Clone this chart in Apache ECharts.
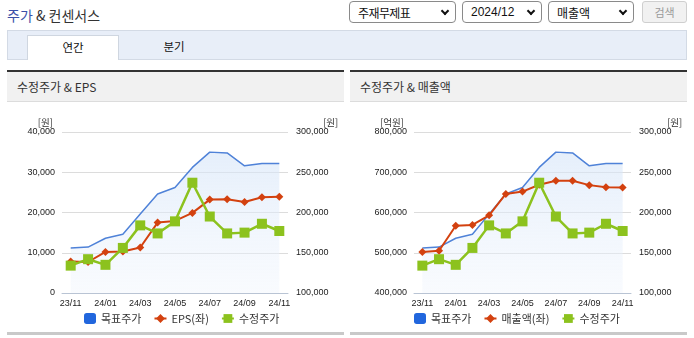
<!DOCTYPE html>
<html><head><meta charset="utf-8">
<script src="https://cdn.jsdelivr.net/npm/echarts@6/dist/echarts.min.js"></script>
<style>
html,body{margin:0;padding:0;background:#fff;width:694px;height:338px;overflow:hidden;font-family:'Noto Sans CJK KR','Noto Sans',sans-serif;color:#333}
.abs{position:absolute}
#title{left:7px;top:5px;font-size:14px;line-height:20px;color:#333;white-space:nowrap}
#title .b{color:#3a4fa8}
.sel{position:absolute;top:1px;height:22px;border:1px solid #8a8a8a;border-radius:4px;background:#fff;box-sizing:border-box}
.sel span{position:absolute;left:8px;top:0;line-height:21px;font-size:12px;color:#111;white-space:nowrap}
.sel i{position:absolute;top:6px;width:4px;height:4px;border-right:2px solid #111;border-bottom:2px solid #111;transform:rotate(45deg)}
#btn{position:absolute;left:642px;top:1px;width:45px;height:22px;border:1px solid #cfcfcf;border-radius:3px;background:#f1f1f1;box-sizing:border-box;font-size:11px;color:#9a9a9a;text-align:center;line-height:20px}
#tabbar{left:7px;top:30px;width:680px;height:30px;background:#e8eef8;border:1px solid #d3dae5;box-sizing:border-box}
#tab1{left:27px;top:35px;width:92px;height:25px;background:#fff;border:1px solid #cfd6e0;border-bottom:none;box-sizing:border-box;text-align:center;font-size:11.5px;line-height:22px;color:#111}
#tab2{left:150px;top:35px;width:48px;height:25px;text-align:center;font-size:11.5px;line-height:22px;color:#111}
.panel{position:absolute;top:70px;width:337px;height:265px}
.panel .top{position:absolute;left:0;top:0;width:100%;height:2px;background:#333}
.panel .head{position:absolute;left:0;top:2px;width:100%;height:30px;background:#f1f1f1;border-bottom:1px solid #dcdcdc;box-sizing:border-box}
.panel .head span{position:absolute;left:10px;top:0;line-height:29px;font-size:12px;color:#333;white-space:nowrap}
.panel .bot{position:absolute;left:0;top:262px;width:100%;height:3px;background:#c9c9c9}
.chart{position:absolute;left:0;top:33px;width:337px;height:229px}
</style></head>
<body>
<div id="title" class="abs"><span class="b">주가</span> &amp; 컨센서스</div>
<div class="sel" style="left:349px;width:107px"><span style="letter-spacing:-0.6px">주재무제표</span><i style="left:92px"></i></div>
<div class="sel" style="left:462px;width:80px"><span style="font-family:'Liberation Sans',Arial,sans-serif">2024/12</span><i style="left:65px"></i></div>
<div class="sel" style="left:548px;width:86px"><span>매출액</span><i style="left:71px"></i></div>
<div id="btn">검색</div>
<div id="tabbar" class="abs"></div>
<div id="tab1" class="abs">연간</div>
<div id="tab2" class="abs">분기</div>

<div class="panel" style="left:7px"><div class="top"></div><div class="head"><span>수정주가 &amp; EPS</span></div><div id="c1" class="chart"></div><div class="bot"></div></div>
<div class="panel" style="left:350px"><div class="top"></div><div class="head"><span>수정주가 &amp; 매출액</span></div><div id="c2" class="chart"></div><div class="bot"></div></div>

<script>
const categories = ['23/11','23/12','24/01','24/02','24/03','24/04','24/05','24/06','24/07','24/08','24/09','24/10','24/11'];
const targetPrice = [156000,157000,168000,173000,198000,223000,231000,256000,275000,274000,258000,261000,261000];
const adjPrice = [134000,142000,135000,156000,184000,174000,189000,237000,195000,174000,175000,186000,177000];
const eps = [7800,7700,10200,10300,11300,17500,17900,19900,23200,23300,22600,23800,23900];
const revenue = [502000,505000,567000,569000,593000,646000,652000,669000,679000,679000,668000,663000,662000];

const numFont = "'Liberation Sans', Arial, sans-serif";
const krFont = "'Noto Sans CJK KR', 'Noto Sans', sans-serif";
const fmt = v => v.toLocaleString('en-US');

function build(el, opt) {
  const ch = echarts.init(document.getElementById(el), null, {renderer: 'canvas'});
  const leftName = opt.leftName;
  ch.setOption({
    animation: false,
    grid: {left: opt.gridLeft, top: 29, width: opt.gridWidth, height: 161},
    legend: {
      left: opt.legendLeft, top: 210, padding: 0, itemGap: 12, itemWidth: 12, itemHeight: 11,
      textStyle: {fontFamily: krFont, fontSize: 11, color: '#333'},
      data: [{name: '목표주가', icon: 'roundRect'}, {name: opt.leftSeries}, {name: '수정주가'}]
    },
    xAxis: {
      type: 'category', data: categories, boundaryGap: true,
      axisLine: {lineStyle: {color: '#b9c4d4'}},
      axisTick: {show: false},
      axisLabel: {interval: 1, fontFamily: numFont, fontSize: 9, color: '#222', margin: 6}
    },
    yAxis: [
      {type: 'value', min: opt.lMin, max: opt.lMax, interval: opt.lInt, position: 'left',
       name: leftName, nameLocation: 'end', nameGap: 5,
       nameTextStyle: {fontFamily: krFont, fontSize: 9.5, color: '#333', align: 'right', padding: [0, opt.lNamePad, 0, 0]},
       axisLine: {show: false}, axisTick: {show: false},
       axisLabel: {fontFamily: numFont, fontSize: 9, color: '#222', margin: 7, formatter: fmt},
       splitLine: {lineStyle: {color: '#dcdcdc'}}},
      {type: 'value', min: 100000, max: 300000, interval: 50000, position: 'right',
       name: '[원]', nameLocation: 'end', nameGap: 5,
       nameTextStyle: {fontFamily: krFont, fontSize: 9.5, color: '#333', align: 'left', padding: [0, 0, 0, opt.rNamePad]},
       axisLine: {show: false}, axisTick: {show: false},
       axisLabel: {fontFamily: numFont, fontSize: 9, color: '#222', margin: 8, formatter: fmt},
       splitLine: {show: false}}
    ],
    series: [
      {name: '목표주가', type: 'line', yAxisIndex: 1, data: targetPrice, showSymbol: false, symbol: 'none',
       itemStyle: {color: '#2166dd'}, lineStyle: {color: '#4f82d8', width: 1.5},
       areaStyle: {color: new echarts.graphic.LinearGradient(0, 0, 0, 1, [
         {offset: 0, color: 'rgba(212,228,248,0.85)'}, {offset: 1, color: 'rgba(240,245,253,0.6)'}])},
       z: 1},
      {name: opt.leftSeries, type: 'line', yAxisIndex: 0, data: opt.leftData, symbol: 'diamond', symbolSize: 8,
       itemStyle: {color: '#d3410f'}, lineStyle: {color: '#d3410f', width: 2}, z: 3},
      {name: '수정주가', type: 'line', yAxisIndex: 1, data: adjPrice, symbol: 'rect', symbolSize: 10,
       itemStyle: {color: '#8cc21e'}, lineStyle: {color: '#8cc21e', width: 2.5}, z: 4}
    ]
  });
}

build('c1', {gridLeft: 55, gridWidth: 226, legendLeft: 77, leftName: '[원]', lNamePad: 9, rNamePad: 35,
  lMin: 0, lMax: 40000, lInt: 10000, leftSeries: 'EPS(좌)', leftData: eps});
build('c2', {gridLeft: 64, gridWidth: 217, legendLeft: 64, leftName: '[억원]', lNamePad: 10, rNamePad: 36,
  lMin: 400000, lMax: 800000, lInt: 100000, leftSeries: '매출액(좌)', leftData: revenue});
</script>
</body></html>
